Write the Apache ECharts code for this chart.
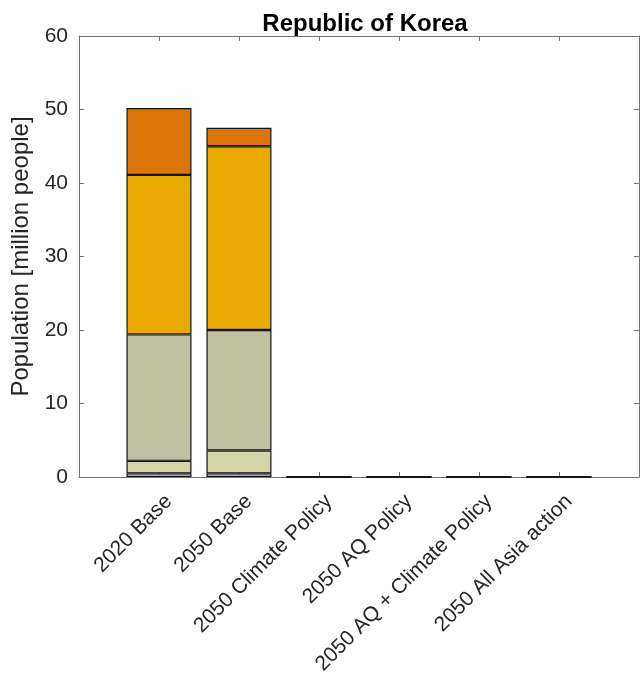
<!DOCTYPE html>
<html>
<head>
<meta charset="utf-8">
<script src="https://cdn.jsdelivr.net/npm/echarts@6/dist/echarts.min.js"></script>
<style>
  html, body { margin: 0; padding: 0; background: #fff; }
  #chart { width: 641px; height: 680px; }
</style>
</head>
<body>
<div id="chart"></div>
<script>
// Scenario names along the x axis
const categories = [
  '2020 Base',
  '2050 Base',
  '2050 Climate Policy',
  '2050 AQ Policy',
  '2050 AQ + Climate Policy',
  '2050 All Asia action'
];

// Population per exposure band (million people), bottom band first
const band1 = [0.5, 0.5, 0, 0, 0, 0];
const band2 = [1.7, 3.1, 0, 0, 0, 0];
const band3 = [17.2, 16.4, 0, 0, 0, 0];
const band4 = [21.7, 25.0, 0, 0, 0, 0];
const band5 = [9.1, 2.5, 0, 0, 0, 0];

const bands = [band1, band2, band3, band4, band5];
const bandColors = ['#c7d6e6', '#d3d4a8', '#bfc1a2', '#e8aa00', '#dd760a'];

const yTicks = [0, 10, 20, 30, 40, 50, 60];

const axisGray = '#737373';
const textDark = '#262626';
const fontFamily = 'Liberation Sans, Arial, Helvetica, sans-serif';

// The x range runs from 0 to 7 with bars on the integer positions 1..6,
// so the axis gets an empty slot at each end.
const xSlots = [''].concat(categories, ['']);
const pad = arr => [null].concat(arr, [null]);

const chart = echarts.init(document.getElementById('chart'), null, { renderer: 'canvas' });

const series = bands.map((vals, i) => ({
  type: 'bar',
  stack: 'total',
  xAxisIndex: 0,
  yAxisIndex: 0,
  barWidth: 65,
  data: pad(vals),
  itemStyle: { color: bandColors[i], borderColor: '#141414', borderWidth: 1.2 },
  emphasis: { disabled: true },
  animation: false
}));

const catAxisBase = {
  type: 'category',
  data: xSlots,
  boundaryGap: false,
  splitLine: { show: false },
  axisLine: { show: true, onZero: false, lineStyle: { color: axisGray, width: 1 } },
  axisTick: { show: true, inside: true, length: 5, alignWithLabel: true, interval: 0, lineStyle: { color: axisGray } }
};

chart.setOption({
  animation: false,
  title: {
    text: 'Republic of Korea',
    left: 360,
    textAlign: 'center',
    top: 7,
    textStyle: { fontFamily, fontSize: 24, fontWeight: 'bold', color: '#000' }
  },
  grid: { left: 79, right: -1, top: 36, bottom: 203, containLabel: false },
  xAxis: [
    Object.assign({}, catAxisBase, {
      position: 'bottom',
      axisLabel: {
        rotate: 45, margin: 31, interval: 0, color: textDark, fontFamily, fontSize: 21,
        padding: [0, -14, 0, 0]
      }
    }),
    Object.assign({}, catAxisBase, {
      position: 'top',
      axisLabel: { show: false }
    })
  ],
  yAxis: [
    {
      type: 'value', min: yTicks[0], max: yTicks[yTicks.length - 1], interval: 10, position: 'left',
      name: 'Population [million people]',
      nameLocation: 'middle', nameGap: 37,
      nameTextStyle: { fontFamily, fontSize: 24, color: textDark },
      splitLine: { show: false },
      axisLine: { show: true, onZero: false, lineStyle: { color: axisGray, width: 1 } },
      axisTick: { show: true, inside: true, length: 5, lineStyle: { color: axisGray } },
      axisLabel: { color: textDark, fontFamily, fontSize: 21, margin: 11 }
    },
    {
      type: 'value', min: yTicks[0], max: yTicks[yTicks.length - 1], interval: 10, position: 'right',
      splitLine: { show: false },
      axisLine: { show: true, onZero: false, lineStyle: { color: axisGray, width: 1 } },
      axisTick: { show: true, inside: true, length: 5, lineStyle: { color: axisGray } },
      axisLabel: { show: false }
    }
  ],
  series
});
</script>
</body>
</html>
